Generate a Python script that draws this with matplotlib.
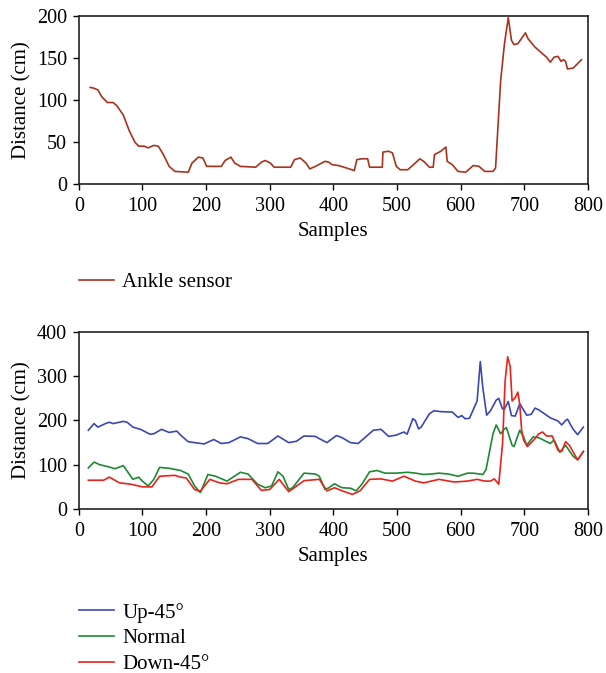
import matplotlib.pyplot as plt

plt.rcParams["font.family"] = ["Liberation Serif", "DejaVu Serif"]

# Ankle sensor (top panel)
ankle_x = [18, 24, 30, 36, 45, 54, 60, 70, 79, 88, 94, 103, 109, 118, 125, 133,
           142, 151, 172, 178, 188, 195, 201, 224, 230, 239, 245, 254, 278, 287,
           293, 301, 307, 333, 339, 348, 357, 363, 372, 387, 393, 398, 408, 421,
           433, 437, 445, 454, 457, 477, 478, 487, 493, 499, 505, 517, 526, 536,
           542, 551, 557, 559, 569, 577, 579, 587, 596, 608, 620, 629, 638, 651,
           655, 663, 669, 675, 680, 684, 690, 702, 706, 717, 735, 741, 747, 753,
           758, 762, 765, 768, 777, 790]
ankle_y = [115, 114, 112, 104, 97, 97, 93, 82, 64, 50, 45, 45, 43, 46, 45, 35,
           21, 15, 14, 25, 32, 31, 21, 21, 28, 32, 25, 21, 20, 26,
           28, 25, 20, 20, 29, 31, 25, 18, 21, 27, 26, 23, 22, 19,
           16, 29, 30, 30, 20, 20, 38, 39, 37, 21, 17, 17, 23, 30,
           27, 20, 20, 35, 39, 44, 27, 23, 15, 14, 22, 21, 15, 15,
           19, 123, 167, 198, 171, 166, 167, 180, 173, 163, 151, 145, 151, 152,
           146, 148, 146, 137, 138, 148]

# Up-45 (blue)
up_x = [15, 24, 30, 42, 48, 54, 70, 76, 85, 97, 112, 118, 130, 142, 154, 160,
        172, 197, 212, 224, 236, 254, 266, 281, 297, 313, 330, 342, 354, 372,
        378, 390, 405, 414, 427, 439, 451, 463, 475, 487, 499, 511, 516, 525,
        529, 534, 538, 551, 558, 569, 587, 596, 602, 607, 614, 626, 631, 635,
        641, 647, 656, 660, 666, 669, 675, 680, 686, 693, 704, 711, 717, 723,
        741, 753, 759, 765, 768, 777, 784, 793]
up_y = [178, 193, 185, 193, 196, 193, 198, 196, 185, 180, 169, 170, 180, 173, 176, 167,
        152, 147, 157, 148, 150, 163, 159, 148, 148, 165, 150, 153, 165, 164,
        159, 150, 166, 161, 150, 148, 163, 178, 180, 164, 167, 174, 169, 204,
        200, 181, 185, 215, 222, 220, 219, 207, 211, 204, 205, 244, 333, 274,
        212, 222, 246, 250, 226, 226, 243, 211, 210, 238, 212, 214, 228, 224,
        206, 199, 190, 200, 203, 180, 168, 185]

# Normal (green)
normal_x = [15, 24, 33, 45, 57, 70, 85, 94, 100, 109, 118, 127, 142, 160, 172, 182,
            191, 203, 215, 233, 254, 266, 281, 293, 303, 313, 321, 330, 336, 354,
            372, 378, 387, 393, 402, 408, 414, 427, 436, 445, 457, 469, 481, 499,
            517, 529, 542, 554, 566, 581, 596, 611, 620, 635, 640, 651, 656, 663,
            669, 672, 681, 684, 693, 699, 704, 714, 723, 741, 747, 756, 765, 777,
            784, 793]
normal_y = [93, 106, 100, 96, 91, 98, 67, 72, 63, 52, 67, 94, 92, 87, 79, 52,
            37, 78, 74, 63, 83, 79, 56, 48, 52, 84, 74, 44, 48, 81,
            79, 74, 44, 48, 57, 52, 48, 47, 41, 56, 84, 87, 81, 81,
            83, 81, 78, 79, 81, 79, 74, 81, 81, 78, 89, 170, 190, 170,
            181, 184, 144, 141, 178, 163, 144, 163, 161, 148, 156, 128, 144, 119,
            111, 130]

# Down-45 (red)
down_x = [15, 39, 48, 64, 82, 100, 115, 127, 151, 160, 169, 182, 191, 206, 221, 233,
          251, 272, 287, 300, 315, 330, 354, 378, 390, 402, 414, 430, 442, 457,
          475, 493, 511, 529, 542, 566, 590, 611, 626, 638, 647, 653, 660, 666,
          670, 674, 678, 681, 686, 690, 693, 696, 699, 705, 717, 723, 729, 735,
          744, 753, 759, 765, 771, 784, 793]
down_y = [65, 65, 72, 59, 56, 50, 50, 74, 76, 72, 70, 44, 40, 67, 59, 57,
          67, 67, 42, 44, 67, 39, 64, 67, 41, 48, 41, 33, 41, 67,
          68, 63, 74, 63, 59, 67, 61, 63, 67, 63, 63, 68, 56, 148,
          289, 344, 322, 244, 252, 264, 237, 178, 156, 141, 159, 170, 174, 165,
          165, 133, 130, 152, 144, 111, 130]

FS = 15

fig = plt.figure(figsize=(6.06, 6.73), dpi=100)
ax1 = fig.add_axes([0.130, 0.7266, 0.840, 0.2496])
ax2 = fig.add_axes([0.130, 0.2437, 0.840, 0.2630])

ax1.plot(ankle_x, ankle_y, color="#a8321e", lw=1.2, label="Ankle sensor")
ax1.set_ylim(0, 200)
ax1.set_yticks([0, 50, 100, 150, 200])

ax2.plot(up_x, up_y, color="#3c46b4", lw=1.2, label="Up-45°")
ax2.plot(normal_x, normal_y, color="#1c8a32", lw=1.2, label="Normal")
ax2.plot(down_x, down_y, color="#e8231c", lw=1.2, label="Down-45°")
ax2.set_ylim(0, 400)
ax2.set_yticks([0, 100, 200, 300, 400])

for ax in (ax1, ax2):
    ax.set_xlim(0, 800)
    ax.set_xticks(range(0, 801, 100))
    ax.set_xlabel("Samples", fontsize=FS, labelpad=4)
    ax.set_ylabel("Distance (cm)", fontsize=FS, labelpad=4)
    ax.tick_params(labelsize=14.5, direction="out", length=4, width=1, pad=5.5)
    ax.tick_params(axis="y", pad=4.5)
    for s in ax.spines.values():
        s.set_linewidth(1.2)
        s.set_color("#222222")

fig.legend(*ax1.get_legend_handles_labels(), loc="upper left",
           bbox_to_anchor=(0.099, 1 - 254 / 673), frameon=False, fontsize=FS,
           handlelength=1.7, handletextpad=0.4)
fig.legend(*ax2.get_legend_handles_labels(), loc="upper left",
           bbox_to_anchor=(0.099, 1 - 584 / 673), frameon=False, fontsize=FS,
           handlelength=1.7, handletextpad=0.4, labelspacing=0.3)

fig.savefig("out.png", dpi=100)
